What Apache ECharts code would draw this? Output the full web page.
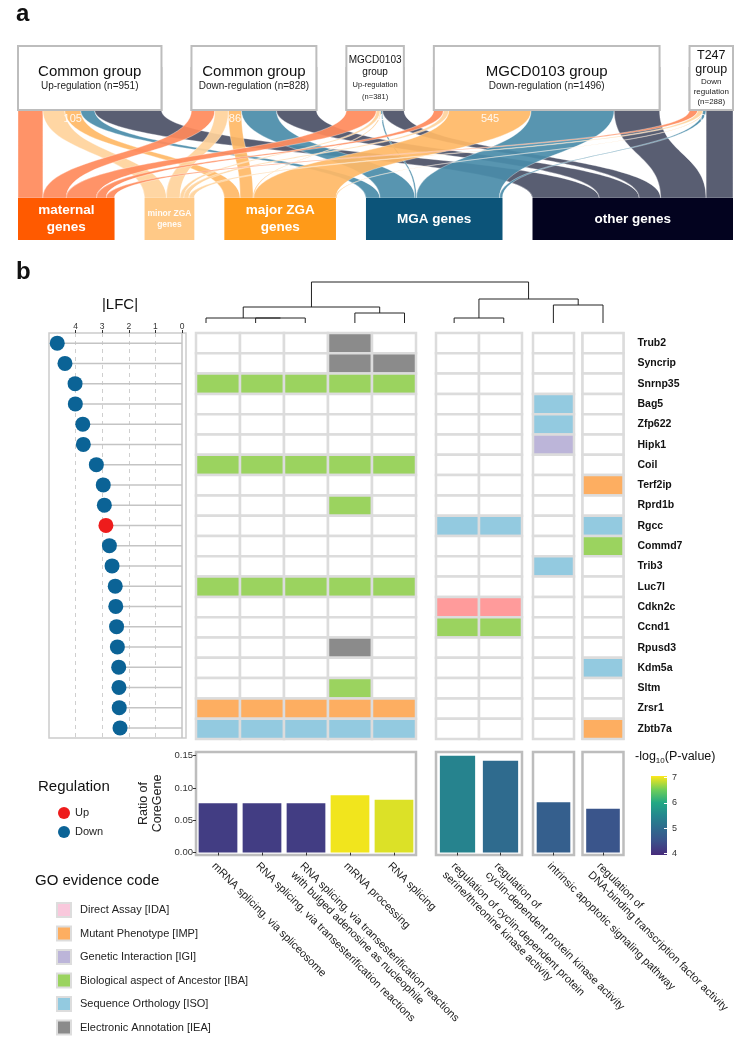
<!DOCTYPE html>
<html>
<head>
<meta charset="utf-8">
<script src="https://cdn.jsdelivr.net/npm/echarts@6/dist/echarts.min.js"></script>
<style>
html, body { margin: 0; padding: 0; background: #fff; }
#chart { width: 744px; height: 1049px; }
</style>
</head>
<body>
<div id="chart"></div>
<script>
// ---------- panel a : sankey ----------
const sourceNames = ['Common group', 'Common group', 'MGCD0103\ngroup', 'MGCD0103 group', 'T247\ngroup']
const sourceDirections = ['Up-regulation', 'Down-regulation', 'Up-regulation', 'Down-regulation', 'Down\nregulation']
const targetNames = ['maternal genes', 'minor ZGA genes', 'major ZGA genes', 'MGA genes', 'other genes']
const targetLabels = ['maternal\ngenes', 'minor ZGA\ngenes', 'major ZGA\ngenes', 'MGA genes', 'other genes']
// rows = source group, columns = target gene class
const flowValues = [
    [165, 145, 105, 93, 443],
    [155, 90, 86, 232, 265],
    [200, 25, 4, 10, 142],
    [65, 35, 545, 550, 301],
    [55, 35, 0, 20, 178]
]
const labelledTarget = 2 // the counts written under the boxes (major ZGA flows)

// ---------- panel b ----------
const genes = ['Trub2', 'Syncrip', 'Snrnp35', 'Bag5', 'Zfp622', 'Hipk1', 'Coil', 'Terf2ip', 'Rprd1b', 'Rgcc',
    'Commd7', 'Trib3', 'Luc7l', 'Cdkn2c', 'Ccnd1', 'Rpusd3', 'Kdm5a', 'Sltm', 'Zrsr1', 'Zbtb7a']
const lfc = [4.69, 4.40, 4.02, 4.01, 3.73, 3.71, 3.22, 2.96, 2.92, 2.86,
    2.73, 2.63, 2.51, 2.49, 2.46, 2.43, 2.38, 2.37, 2.36, 2.33]
const regulation = ['Down', 'Down', 'Down', 'Down', 'Down', 'Down', 'Down', 'Down', 'Down', 'Up',
    'Down', 'Down', 'Down', 'Down', 'Down', 'Down', 'Down', 'Down', 'Down', 'Down']
const lfcTicks = [0, 1, 2, 3, 4]

const goTerms = [
    'mRNA splicing, via spliceosome',
    'RNA splicing, via transesterification reactions',
    'RNA splicing, via transesterification reactions\nwith bulged adenosine as nucleophile',
    'mRNA processing',
    'RNA splicing',
    'regulation of cyclin-dependent protein\nserine/threonine kinase activity',
    'regulation of\ncyclin-dependent protein kinase activity',
    'intrinsic apoptotic signaling pathway',
    'regulation of\nDNA-binding transcription factor activity'
]
const termGroups = [[0, 1, 2, 3, 4], [5, 6], [7], [8]]
const coreRatio = [0.0761, 0.0761, 0.0761, 0.0885, 0.0817, 0.150, 0.142, 0.0776, 0.0677]
const negLogP = [4.2, 4.2, 4.2, 7.0, 6.92, 5.43, 5.0, 4.76, 4.56]
const ratioTicks = [0, 0.05, 0.1, 0.15]
const pTicks = [4, 5, 6, 7]

// evidence per gene, one letter per GO term ('.' = not annotated)
const evidenceCodes = ['A', 'M', 'G', 'B', 'S', 'E']
const evidenceNames = ['Direct Assay [IDA]', 'Mutant Phenotype [IMP]', 'Genetic Interaction [IGI]',
    'Biological aspect of Ancestor [IBA]', 'Sequence Orthology [ISO]', 'Electronic Annotation [IEA]']
const evidence = [
    '...E.....', '...EE....', 'BBBBB....', '.......S.', '.......S.',
    '.......G.', 'BBBBB....', '........M', '...B.....', '.....SS.S',
    '........B', '.......S.', 'BBBBB....', '.....AA..', '.....BB..',
    '...E.....', '........S', '...B.....', 'MMMMM....', 'SSSSS...M'
]

// dendrogram over the GO terms: [left node, right node, height]; leaves are 0..8, merges get 9, 10, ...
const merges = [[1, 2, 5], [0, 9, 5], [3, 4, 10], [10, 11, 16], [5, 6, 5], [7, 8, 18], [13, 14, 24], [12, 15, 41]]

// colours
const targetColors = ['#FF5A00', '#FFC987', '#FF9A18', '#0C5479', '#03031F']
const flowColors = ['#FF8A5B', '#FFD29B', '#FFB866', '#4A8CA9', '#4B5066']
const legendColors = ['#F9C8DC', '#FDAE61', '#BCB5D9', '#9BD35F', '#93CAE0', '#8B8B8B']
const cellColors = ['#FF9B9B', '#FDAE61', '#BCB5D9', '#9BD35F', '#93CAE0', '#8B8B8B']
const pColorStops = [[3.95, '#472A7A'], [4, '#472F7D'], [4.5, '#3B528B'], [5, '#2F6B8E'], [5.5, '#24878E'],
    [6, '#22A884'], [6.5, '#6CCD5A'], [7, '#F1E51D'], [7.05, '#FDE725']]

const FONT = '"Liberation Sans", Arial, Helvetica, sans-serif'

function hex(c) {
    return [parseInt(c.slice(1, 3), 16), parseInt(c.slice(3, 5), 16), parseInt(c.slice(5, 7), 16)]
}
function colorForP(p) {
    for (let i = 1; i < pColorStops.length; i++) {
        const [v0, c0] = pColorStops[i - 1]
        const [v1, c1] = pColorStops[i]
        if (p <= v1) {
            const t = Math.max(0, (p - v0) / (v1 - v0))
            const a = hex(c0), b = hex(c1)
            return 'rgb(' + a.map((x, k) => Math.round(x + (b[k] - x) * t)).join(',') + ')'
        }
    }
    return pColorStops[pColorStops.length - 1][1]
}

// sankey nodes / links
const sankeyNodes = []
sourceNames.forEach((n, s) => {
    sankeyNodes.push({
        name: n.replace('\n', ' ') + ' ' + sourceDirections[s].replace('\n', '-'),
        itemStyle: { color: '#fff', borderColor: '#BDBDBD', borderWidth: 2 },
        label: { show: false }
    })
})
targetNames.forEach((n, t) => {
    sankeyNodes.push({
        name: n,
        itemStyle: { color: targetColors[t] },
        label: {
            show: true, position: 'inside', formatter: targetLabels[t],
            color: t === 1 ? 'rgba(255,255,255,0.92)' : '#fff',
            fontWeight: 'bold', fontSize: t === 1 ? 8.5 : 13.5, lineHeight: t === 1 ? 11 : 17
        }
    })
})
const sankeyLinks = []
flowValues.forEach((row, s) => {
    row.forEach((v, t) => {
        sankeyLinks.push({
            source: sankeyNodes[s].name,
            target: targetNames[t],
            value: v,
            lineStyle: { color: flowColors[t] }
        })
    })
})

// heatmap cells per group
function groupCells(group) {
    const cells = []
    genes.forEach((g, r) => {
        group.forEach((term, c) => {
            cells.push([c, r, evidenceCodes.indexOf(evidence[r][term])])
        })
    })
    return cells
}
function renderCell(params, api) {
    const code = api.value(2)
    const p = api.coord([api.value(0), api.value(1)])
    const size = api.size([1, 1])
    return {
        type: 'rect',
        shape: { x: p[0] - size[0] / 2, y: p[1] - size[1] / 2, width: size[0], height: size[1] },
        style: { fill: code < 0 ? '#FFFFFF' : cellColors[code], stroke: '#DCDCDC', lineWidth: 2.5 }
    }
}

// dendrogram node positions
const nodeX = termGroups.flat().map((t, i) => i)
const nodeH = nodeX.map(() => 0)
merges.forEach(([a, b, h]) => {
    nodeX.push((nodeX[a] + nodeX[b]) / 2)
    nodeH.push(h)
})
function renderMerge(params, api) {
    const [a, b, h] = merges[params.dataIndex]
    const pts = [[nodeX[a], nodeH[a]], [nodeX[a], h], [nodeX[b], h], [nodeX[b], nodeH[b]]].map(p => api.coord(p))
    return { type: 'polyline', shape: { points: pts }, style: { stroke: '#222', lineWidth: 1, fill: null } }
}

// colour bar
const pMin = pColorStops[0][0], pMax = pColorStops[pColorStops.length - 1][0]
const barGradient = pColorStops.map(([v, c]) => ({ offset: (v - pMin) / (pMax - pMin), color: c }))
function renderColorbar(params, api) {
    const cs = params.coordSys
    const top = api.coord([0, api.value(2)])[1]
    const bottom = api.coord([0, api.value(1)])[1]
    return {
        type: 'rect',
        shape: { x: cs.x, y: top, width: cs.width, height: bottom - top },
        style: { fill: new echarts.graphic.LinearGradient(0, 1, 0, 0, barGradient) }
    }
}

// layout of the panel b blocks
const groupLeft = [196, 436, 533, 582.5]
const groupWidth = [220, 86, 41, 41]
const heatTop = 333, heatHeight = 406
const barTop = 752, barHeight = 103

const grids = [{ left: 49, top: heatTop, width: 137, height: 405, show: true, borderColor: '#CCCCCC', borderWidth: 1.5 }]
groupLeft.forEach((l, i) => grids.push({ left: l, top: heatTop, width: groupWidth[i], height: heatHeight, show: true, borderColor: '#D4D4D4', borderWidth: 2 }))
grids.push({ left: 206, top: 282, width: 397, height: 41 })
groupLeft.forEach((l, i) => grids.push({ left: l, top: barTop, width: groupWidth[i], height: barHeight, show: true, borderColor: '#BDBDBD', borderWidth: 2.5 }))
grids.push({ left: 651, top: 776, width: 16, height: 79 })

const xAxes = [{
    gridIndex: 0, type: 'value', position: 'top', inverse: true, min: -0.15, max: 5,
    axisLine: { show: false }, splitLine: { show: false },
    axisTick: { show: true, customValues: lfcTicks, length: 3, lineStyle: { color: '#333' } },
    axisLabel: { customValues: lfcTicks, fontSize: 8.5, color: '#333', margin: 2 }
}]
const yAxes = [{ gridIndex: 0, type: 'category', data: genes, inverse: true, show: false }]
termGroups.forEach((group, i) => {
    xAxes.push({ gridIndex: i + 1, type: 'category', data: group.map(t => goTerms[t]), show: false })
    yAxes.push(i < 3
        ? { gridIndex: i + 1, type: 'category', data: genes, inverse: true, show: false }
        : {
            gridIndex: i + 1, type: 'category', data: genes, inverse: true, position: 'right',
            axisLine: { show: false }, axisTick: { show: false },
            axisLabel: { fontSize: 10.5, fontWeight: 'bold', color: '#111', margin: 14 }
        })
})
xAxes.push({ gridIndex: 5, type: 'value', min: 0, max: 8, show: false })
yAxes.push({ gridIndex: 5, type: 'value', min: 0, max: 41, show: false })
termGroups.forEach((group, i) => {
    xAxes.push({
        gridIndex: 6 + i, type: 'category', data: group.map(t => goTerms[t]),
        axisLine: { show: false },
        axisTick: { show: true, alignWithLabel: true, length: 3, lineStyle: { color: '#333' } },
        axisLabel: {
            interval: 0, rotate: -45, align: 'left', verticalAlign: 'top', margin: 5,
            fontSize: 11, lineHeight: 12.5, color: '#222'
        }
    })
    yAxes.push(i === 0
        ? {
            gridIndex: 6, type: 'value', min: -0.004, max: 0.1557,
            splitLine: { show: false }, axisLine: { show: false },
            axisTick: { show: true, customValues: ratioTicks, length: 3, lineStyle: { color: '#333' } },
            axisLabel: { customValues: ratioTicks, formatter: v => v.toFixed(2), fontSize: 9.5, color: '#333', margin: 3 },
            name: 'Ratio of\nCoreGene', nameLocation: 'middle', nameGap: 31,
            nameTextStyle: { fontSize: 12.5, lineHeight: 14, color: '#222' }
        }
        : { gridIndex: 6 + i, type: 'value', min: -0.004, max: 0.1557, show: false, splitLine: { show: false } })
})
xAxes.push({ gridIndex: 10, type: 'category', data: [''], show: false })
yAxes.push({
    gridIndex: 10, type: 'value', min: pMin, max: pMax, position: 'right', z: 10,
    axisLine: { show: false }, splitLine: { show: false },
    axisTick: { show: true, inside: true, length: 3, customValues: pTicks, lineStyle: { color: '#fff', width: 1 } },
    axisLabel: { customValues: pTicks, fontSize: 9, color: '#333', margin: 5 }
})

const series = [{
    type: 'sankey',
    left: 18, top: 68, width: 715, height: 172,
    orient: 'vertical', nodeWidth: 42, nodeGap: 30, layoutIterations: 0,
    draggable: false, silent: true, emphasis: { disabled: true },
    data: sankeyNodes, links: sankeyLinks,
    lineStyle: { curveness: 0.5, opacity: 0.92, borderColor: 'rgba(255,255,255,0.75)', borderWidth: 0.5 }
}, {
    // stems of the lollipops
    type: 'bar', name: 'stem', xAxisIndex: 0, yAxisIndex: 0, data: lfc, barWidth: 1.5, silent: true,
    itemStyle: { color: '#C4C4C4' },
    markLine: {
        silent: true, symbol: ['none', 'none'], label: { show: false }, animation: false, z: 1,
        data: lfcTicks.map(v => ({
            xAxis: v,
            lineStyle: v === 0 ? { type: 'solid', color: '#C4C4C4', width: 1.5 } : { type: [4, 4], color: '#CFCFCF', width: 1 }
        }))
    }
}]
;['Up', 'Down'].forEach(dir => {
    series.push({
        type: 'scatter', name: dir, xAxisIndex: 0, yAxisIndex: 0, symbolSize: 15, z: 10,
        itemStyle: { color: dir === 'Up' ? '#EE1C1C' : '#0B6396', opacity: 1 },
        data: lfc.map((v, i) => [v, i]).filter((d, i) => regulation[i] === dir)
    })
})
termGroups.forEach((group, i) => {
    series.push({
        type: 'custom', xAxisIndex: i + 1, yAxisIndex: i + 1, silent: true,
        renderItem: renderCell, data: groupCells(group)
    })
})
series.push({ type: 'custom', xAxisIndex: 5, yAxisIndex: 5, silent: true, renderItem: renderMerge, data: merges })
termGroups.forEach((group, i) => {
    series.push({
        type: 'bar', xAxisIndex: 6 + i, yAxisIndex: 6 + i, silent: true,
        barCategoryGap: i === 0 ? '12%' : '18%',
        data: group.map(t => ({ value: coreRatio[t], itemStyle: { color: colorForP(negLogP[t]) } }))
    })
})
series.push({ type: 'custom', xAxisIndex: 10, yAxisIndex: 10, silent: true, renderItem: renderColorbar, data: [[0, pMin, pMax]] })
evidenceNames.forEach((n, k) => {
    series.push({ type: 'scatter', name: n, xAxisIndex: 0, yAxisIndex: 0, data: [], itemStyle: { color: legendColors[k], opacity: 1 } })
})

function label(id, text, x, y, size, extra) {
    return Object.assign({
        type: 'text', id: id, z: 100,
        style: Object.assign({ text: text, x: x, y: y, fontSize: size, fontFamily: FONT, fill: '#111', verticalAlign: 'middle' }, extra || {})
    })
}

const option = {
    animation: false,
    backgroundColor: '#fff',
    textStyle: { fontFamily: FONT },
    grid: grids,
    xAxis: xAxes,
    yAxis: yAxes,
    series: series,
    legend: [{
        data: ['Up', 'Down'], orient: 'vertical', left: 53, top: 802, height: 60, icon: 'circle',
        itemWidth: 12, itemHeight: 12, itemGap: 7, selectedMode: false,
        textStyle: { fontSize: 11, color: '#222' }
    }, {
        data: evidenceNames, orient: 'vertical', left: 51, top: 897, height: 150, icon: 'rect',
        itemWidth: 14, itemHeight: 14, itemGap: 7.5, selectedMode: false,
        itemStyle: { borderColor: '#DDDDDD', borderWidth: 2 },
        textStyle: { fontSize: 11, color: '#222', padding: [0, 0, 0, 4] }
    }],
    graphic: [
        label('pa', 'a', 16, 14, 24, { fontWeight: 'bold' }),
        label('pb', 'b', 16, 272, 24, { fontWeight: 'bold' }),
        label('lfc', '|LFC|', 120, 305, 15, { align: 'center' }),
        label('reg', 'Regulation', 38, 787, 15),
        label('go', 'GO evidence code', 35, 881, 15),
        label('pv', '{m|-log}{s|10}{m|(P-value)}', 635, 757, 12.5, {
            rich: {
                m: { fontSize: 12.5, lineHeight: 16, fontFamily: FONT, fill: '#111' },
                s: { fontSize: 8, lineHeight: 8, verticalAlign: 'bottom', fontFamily: FONT, fill: '#111' }
            }
        })
    ]
}

const chart = echarts.init(document.getElementById('chart'), null, { renderer: 'canvas' })
chart.setOption(option)

// source boxes and flow counts, placed from the sankey layout
const boxText = [
    { n: 15, nl: 17, s: 10, sl: 12, wrap: ' ' },
    { n: 15, nl: 17, s: 10, sl: 12, wrap: ' ' },
    { n: 10, nl: 12.5, s: 7.5, sl: 12, wrap: '\n' },
    { n: 15, nl: 17, s: 10, sl: 12, wrap: ' ' },
    { n: 12.5, nl: 14, s: 8, sl: 10, wrap: '\n' }
]
const sankeyModel = chart.getModel().getSeriesByIndex(0)
const graph = sankeyModel.getGraph()
const info = sankeyModel.layoutInfo
const extras = []
graph.nodes.slice(0, sourceNames.length).forEach((node, s) => {
    const l = node.getLayout()
    const x = info.x + l.x, y = info.y + l.y
    const total = flowValues[s].reduce((a, b) => a + b, 0)
    const bt = boxText[s]
    const lines = sourceNames[s].split('\n').map(t => '{n|' + t + '}')
        .concat((sourceDirections[s] + bt.wrap + '(n=' + total + ')').split('\n').map(t => '{s|' + t + '}'))
    extras.push({
        type: 'rect', id: 'box' + s, z: 100,
        shape: { x: x, y: y - 22, width: l.dx, height: l.dy + 22 },
        style: { fill: '#fff', stroke: '#BDBDBD', lineWidth: 2 }
    })
    extras.push(label('boxt' + s, lines.join('\n'), x + l.dx / 2, y + (l.dy - 22) / 2, bt.n, {
        align: 'center',
        rich: {
            n: { fontSize: bt.n, lineHeight: bt.nl, fontFamily: FONT, fill: '#111' },
            s: { fontSize: bt.s, lineHeight: bt.sl, fontFamily: FONT, fill: '#222' }
        }
    }))
    const edge = graph.edges[s * targetNames.length + labelledTarget]
    const el = edge.getLayout()
    extras.push(label('cnt' + s, String(flowValues[s][labelledTarget]), x + el.sy + el.dy / 2, y + l.dy + 9, 11, {
        align: 'center', fill: 'rgba(255,255,255,0.88)'
    }))
})
chart.setOption({ graphic: extras })
</script>
</body>
</html>
